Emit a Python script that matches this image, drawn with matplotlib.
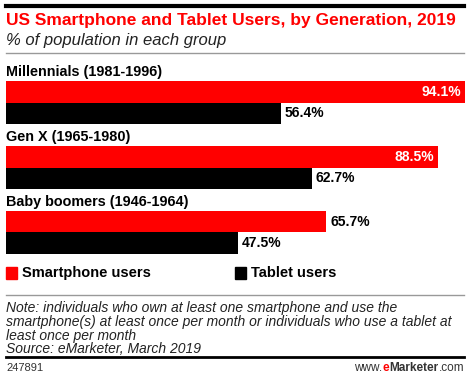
import matplotlib
matplotlib.use("Agg")
import matplotlib.pyplot as plt
from matplotlib.patches import Rectangle

categories = ["Millennials (1981-1996)", "Gen X (1965-1980)", "Baby boomers (1946-1964)"]
smartphone = [94.1, 88.5, 65.7]
tablet = [56.4, 62.7, 47.5]
series_names = ["Smartphone users", "Tablet users"]
title = "US Smartphone and Tablet Users, by Generation, 2019"
subtitle = "% of population in each group"
note = ("Note: individuals who own at least one smartphone and use the\n"
        "smartphone(s) at least once per month or individuals who use a tablet at\n"
        "least once per month\n"
        "Source: eMarketer, March 2019")
chart_id = "247891"

RED = "#ff0000"
BLACK = "#000000"
W, H = 470, 378
FONT = "Liberation Sans"

fig = plt.figure(figsize=(W / 100, H / 100), dpi=100)
fig.patch.set_facecolor("white")

def fx(px):
    return px / W

def fy(py):
    return 1 - py / H

# Top rule, title, subtitle, rule
fig.add_artist(plt.Line2D([fx(6), fx(464)], [fy(6), fy(6)], color="black", lw=3))
fig.text(fx(6), fy(21), title, color=RED, fontsize=12.5, fontweight="bold",
         family=FONT, va="center", ha="left")
fig.text(fx(6), fy(40), subtitle, color="#222222", fontsize=12, style="italic",
         family=FONT, va="center", ha="left")
fig.add_artist(plt.Line2D([fx(6), fx(464)], [fy(53), fy(53)], color="#999999", lw=1))

# Bars axis: 1 data unit = 1 px vertically
top_px, bot_px = 60, 256
ax = fig.add_axes([fx(6), fy(bot_px), fx(465) - fx(6), (bot_px - top_px) / H])
ax.set_xlim(0, max(smartphone))
ax.set_ylim(bot_px - top_px, 0)
ax.axis("off")

group_gap = 65
bar_h = 21.5
first_bar = 21
for i, cat in enumerate(categories):
    base = first_bar + i * group_gap
    ax.text(0, base - 9, cat, fontsize=10.4, fontweight="bold", family=FONT,
            va="center", ha="left", color="black")
    s = smartphone[i]
    t = tablet[i]
    ax.barh(base + bar_h / 2, s, height=bar_h, color=RED, left=0)
    ax.barh(base + bar_h * 1.5, t, height=bar_h, color=BLACK, left=0)
    if s > 80:
        ax.text(s - 0.8, base + bar_h / 2, f"{s:.1f}%", color="white", fontsize=10,
                fontweight="bold", family=FONT, va="center", ha="right")
    else:
        ax.text(s + 0.8, base + bar_h / 2, f"{s:.1f}%", color="black", fontsize=10,
                fontweight="bold", family=FONT, va="center", ha="left")
    ax.text(t + 0.8, base + bar_h * 1.5, f"{t:.1f}%", color="black", fontsize=10,
            fontweight="bold", family=FONT, va="center", ha="left")

# Legend
leg_y = 273
for name, col, x0 in zip(series_names, [RED, BLACK], [6, 235]):
    fig.add_artist(Rectangle((fx(x0), fy(leg_y + 6)), fx(11), 12 / H, color=col,
                             transform=fig.transFigure))
    fig.text(fx(x0 + 16), fy(leg_y), name, fontsize=10.5, fontweight="bold", family=FONT,
             va="center", ha="left", color="black")

fig.add_artist(plt.Line2D([fx(6), fx(464)], [fy(295), fy(295)], color="#999999", lw=1))
fig.text(fx(6), fy(301), note, fontsize=10, style="italic", family=FONT,
         va="top", ha="left", color="#222222", linespacing=0.98)
fig.add_artist(plt.Line2D([fx(6), fx(464)], [fy(357), fy(357)], color="black", lw=2))
fig.text(fx(6), fy(368), chart_id, fontsize=8, family=FONT, va="center", ha="left",
         color="#333333")

# Footer brand: www.eMarketer.com with red bold "e" and bold "Marketer"
pieces = [("www.", "normal", "#333333"), ("e", "bold", RED),
          ("Marketer", "bold", "#333333"), (".com", "normal", "#333333")]
renderer = fig.canvas.get_renderer()
x_right = 464
for txt, wt, col in reversed(pieces):
    t = fig.text(fx(x_right), fy(368), txt, fontsize=8.5, family=FONT, fontweight=wt,
                 va="center", ha="right", color=col)
    bb = t.get_window_extent(renderer=renderer)
    x_right -= bb.width

fig.savefig("out.png", dpi=100, facecolor="white")
